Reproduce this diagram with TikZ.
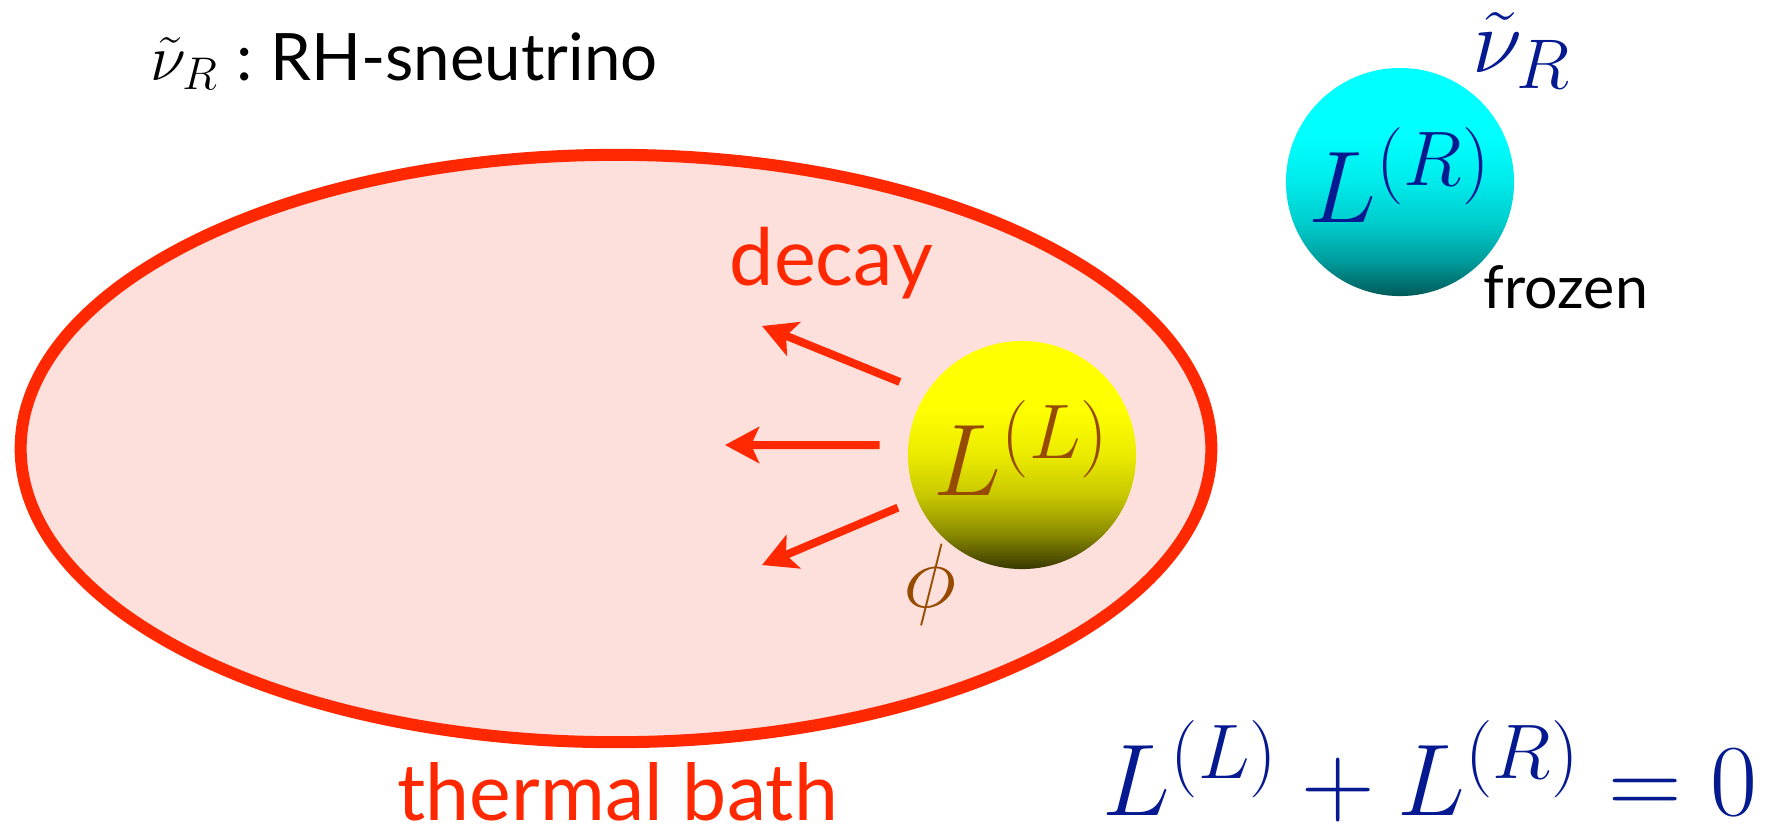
\documentclass[tikz,border=0pt]{standalone}
\usepackage{fix-cm}
\usepackage[no-math]{fontspec}
\newfontfamily\gillsans{Lato}
\DeclareMathSizes{26}{26}{20}{15}
\DeclareMathSizes{29}{29}{22}{16}
\usetikzlibrary{arrows.meta,positioning,shapes.geometric}
\definecolor{bathred}{RGB}{255,40,0}
\definecolor{bathfill}{RGB}{253,224,220}
\definecolor{lepblue}{RGB}{5,25,145}
\definecolor{lepbrown}{RGB}{150,75,0}
\pgfdeclareverticalshading{yellowball}{100bp}{color(0bp)=(yellow!22!black); color(25bp)=(yellow!22!black);
  color(33bp)=(yellow!55!black); color(41bp)=(yellow!78!black); color(50bp)=(yellow!92!black);
  color(60bp)=(yellow); color(100bp)=(yellow)}
\pgfdeclareverticalshading{cyanball}{100bp}{color(0bp)=(cyan!35!black); color(25bp)=(cyan!35!black);
  color(33bp)=(cyan!62!black); color(41bp)=(cyan!80!black); color(50bp)=(cyan!92!black);
  color(60bp)=(cyan); color(100bp)=(cyan)}

\begin{document}
\begin{tikzpicture}[
  x=0.01cm, y=-0.01cm,
  ball/.style={circle, minimum size=2.28cm, inner sep=0pt, text depth=0.14cm},
  decayarr/.style={-{Stealth[length=0.34cm, width=0.36cm, inset=0.08cm]}, line width=0.08cm, draw=bathred},
  sans/.style={font=\gillsans\fontsize{#1pt}{#1pt}\selectfont, inner sep=0pt, anchor=base west},
  mathlbl/.style={font=\fontsize{#1pt}{#1pt}\selectfont},
  mathlbl/.default=29
]
  \useasboundingbox (0,0) rectangle (1779,832);
  \node[ellipse, draw=bathred, fill=bathfill, line width=0.12cm, minimum width=11.9cm, minimum height=5.87cm, inner sep=0pt] (bath) at (616,448.5) {};
  \node[ball, shading=yellowball, text=lepbrown, mathlbl] (lball) at (1022,455) {$L^{(L)}$};
  \node[ball, shading=cyanball, text=lepblue, mathlbl] (rball) at (1400,182) {$L^{(R)}$};

  % decay products leaving the left-handed ball
  \coordinate (tipa) at (762,326);
  \coordinate (tipb) at (725,445);
  \coordinate (tipc) at (762,565);
  \draw[decayarr, shorten <=0.28cm] (lball.147.5) -- (tipa);
  \draw[decayarr, shorten <=0.28cm] (lball.175) -- (tipb);
  \draw[decayarr, shorten <=0.2cm] (lball.203.5) -- (tipc);

  \node[mathlbl=26, text=lepbrown, anchor=base west, inner sep=0pt] (phi) at (903,607) {$\phi$};
  \node[mathlbl=26, text=lepblue, anchor=base west, inner sep=0pt] (nur) at (1472,72) {$\tilde\nu_R$};
  \node[sans=16.8] (frozen) at (1483,308) {frozen};
  \node[sans=22.5, text=bathred] (decay) at (729,285) {decay};
  \node[sans=22.4, text=bathred] (bathlbl) at (397,820) {thermal bath};
  \node[mathlbl, text=lepblue, anchor=base west, inner sep=0pt] (sumrule) at (1102,815) {$L^{(L)}+L^{(R)}=0$};
  \node[sans=18.6] (legend) at (150,80) {$\tilde\nu_R$\hspace{5pt}:\hspace{5pt}RH-sneutrino};
\end{tikzpicture}
\end{document}
